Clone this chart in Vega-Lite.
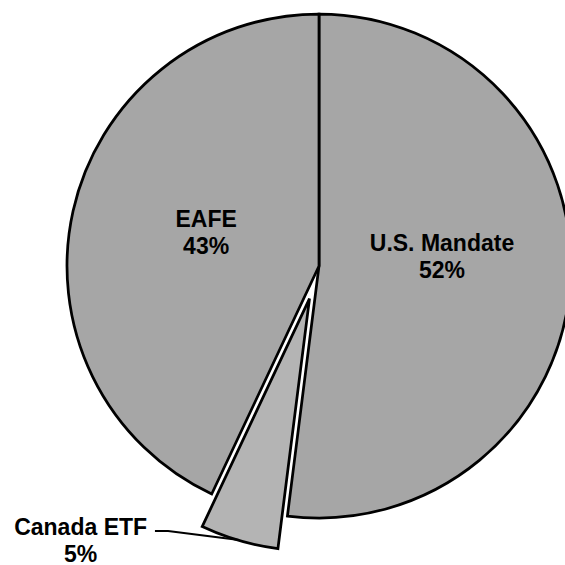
{
  "$schema": "https://vega.github.io/schema/vega-lite/v6.json",
  "width": 504,
  "height": 504,
  "autosize": {"type": "none"},
  "padding": {"left": 67, "top": 14, "right": 0, "bottom": 50},
  "background": "white",
  "config": {"view": {"stroke": null}},
  "datasets": {
    "slices": [
      {"cat": "U.S. Mandate", "value": 52, "o": 1},
      {"cat": "Canada ETF", "value": 5, "o": 2},
      {"cat": "EAFE", "value": 43, "o": 3}
    ],
    "labels": [
      {"label": "EAFE\n43%", "lx": -0.448, "ly": 0.183},
      {"label": "U.S. Mandate\n52%", "lx": 0.488, "ly": 0.088},
      {"label": "Canada ETF\n5%", "lx": -0.946, "ly": -1.04}
    ],
    "leader": [
      {"px": -0.651, "py": -1.052, "k": 1},
      {"px": -0.599, "py": -1.052, "k": 2},
      {"px": -0.317, "py": -1.087, "k": 3}
    ]
  },
  "layer": [
    {
      "data": {"name": "slices"},
      "mark": {"type": "arc", "stroke": "black", "strokeWidth": 2.75, "strokeJoin": "miter"},
      "encoding": {
        "theta": {"field": "value", "type": "quantitative", "stack": true},
        "order": {"field": "o", "type": "quantitative", "sort": "ascending"},
        "color": {
          "field": "cat", "type": "nominal", "legend": null,
          "scale": {"domain": ["U.S. Mandate", "Canada ETF", "EAFE"], "range": ["#a6a6a6", "#b4b4b4", "#a6a6a6"]}
        },
        "opacity": {"condition": {"test": "datum.cat === 'Canada ETF'", "value": 0}, "value": 1}
      }
    },
    {
      "data": {"name": "slices"},
      "mark": {"type": "arc", "stroke": "black", "strokeWidth": 2.75, "strokeJoin": "miter", "xOffset": -9.5, "yOffset": 32.6},
      "encoding": {
        "theta": {"field": "value", "type": "quantitative", "stack": true},
        "order": {"field": "o", "type": "quantitative", "sort": "ascending"},
        "color": {
          "field": "cat", "type": "nominal", "legend": null,
          "scale": {"domain": ["U.S. Mandate", "Canada ETF", "EAFE"], "range": ["#a6a6a6", "#b4b4b4", "#a6a6a6"]}
        },
        "opacity": {"condition": {"test": "datum.cat === 'Canada ETF'", "value": 1}, "value": 0}
      }
    },
    {
      "data": {"name": "leader"},
      "mark": {"type": "line", "color": "black", "strokeWidth": 2, "interpolate": "linear"},
      "encoding": {
        "x": {"field": "px", "type": "quantitative", "axis": null, "scale": {"domain": [-1, 1], "nice": false, "zero": false}},
        "y": {"field": "py", "type": "quantitative", "axis": null, "scale": {"domain": [-1, 1], "nice": false, "zero": false}},
        "order": {"field": "k", "type": "quantitative"}
      }
    },
    {
      "data": {"name": "labels"},
      "mark": {"type": "text", "font": "Liberation Sans", "fontWeight": "bold", "fontSize": 23, "lineBreak": "\n", "lineHeight": 27, "align": "center", "baseline": "middle", "color": "black"},
      "encoding": {
        "x": {"field": "lx", "type": "quantitative", "axis": null, "scale": {"domain": [-1, 1], "nice": false, "zero": false}},
        "y": {"field": "ly", "type": "quantitative", "axis": null, "scale": {"domain": [-1, 1], "nice": false, "zero": false}},
        "text": {"field": "label"}
      }
    }
  ]
}
